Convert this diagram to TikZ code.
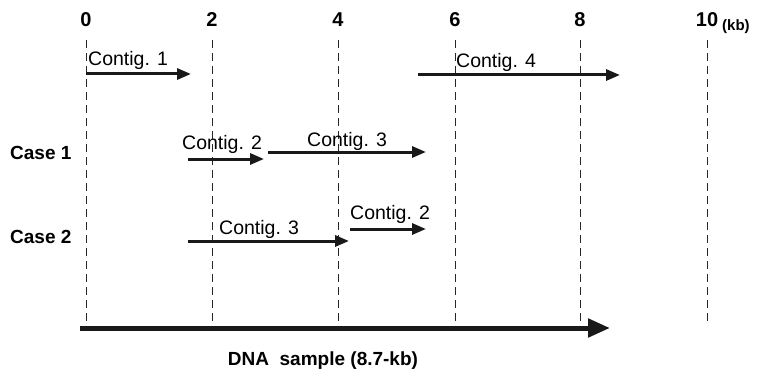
\documentclass[tikz,border=0pt]{standalone}
\usepackage{fontspec}
\setmainfont{Liberation Sans}
\usetikzlibrary{arrows.meta}
\begin{document}
\begin{tikzpicture}[x=1pt,y=-1pt,
  grid/.style={dash pattern=on 8pt off 5pt, line width=1pt, black!85},
  contig/.style={line width=3pt, -{Triangle[length=14pt,width=11pt]}, black!90},
  dna/.style={line width=5pt, -{Triangle[length=22pt,width=18pt]}, black!90},
  lab/.style={font=\fontsize{19.5}{19.5}\selectfont, inner sep=0pt, anchor=base west},
  num/.style={font=\bfseries\fontsize{20}{20}\selectfont, inner sep=0pt, anchor=base},
  casel/.style={font=\bfseries\fontsize{19}{19}\selectfont, inner sep=0pt, anchor=base west}]
\useasboundingbox (0,0) rectangle (758,369);
% scale ticks
\foreach \n/\x in {0/86,2/212,4/338,6/455,8/580,10/707}{
  \node[num] (t\n) at (\x,27) {\n};
  \coordinate (top\n) at (\x,40);
  \coordinate (bot\n) at (\x,322);
  \draw[grid] (top\n) -- (bot\n);
}
\node[font=\bfseries\fontsize{15}{15}\selectfont, inner sep=0pt, anchor=base west] (kb) at (722,31) {(kb)};
% Contig 1 and 4
\coordinate (c1s) at (86,74); \coordinate (c1e) at (191,74);
\draw[contig] (c1s) -- (c1e);
\node[lab] (l1) at (88,66) {Contig. 1};
\coordinate (c4s) at (418,75); \coordinate (c4e) at (620,75);
\draw[contig] (c4s) -- (c4e);
\node[lab] (l4) at (456,67) {Contig. 4};
% Case 1
\node[casel] (case1) at (10,159) {Case 1};
\coordinate (a2s) at (188,159); \coordinate (a2e) at (264,159);
\draw[contig] (a2s) -- (a2e);
\node[lab] (l2a) at (182,149) {Contig. 2};
\coordinate (a3s) at (268,152); \coordinate (a3e) at (426,152);
\draw[contig] (a3s) -- (a3e);
\node[lab] (l3a) at (307,146) {Contig. 3};
% Case 2
\node[casel] (case2) at (10,243) {Case 2};
\coordinate (b3s) at (188,241); \coordinate (b3e) at (349,241);
\draw[contig] (b3s) -- (b3e);
\node[lab] (l3b) at (219,234) {Contig. 3};
\coordinate (b2s) at (350,229); \coordinate (b2e) at (426,229);
\draw[contig] (b2s) -- (b2e);
\node[lab] (l2b) at (350,219) {Contig. 2};
% DNA sample
\coordinate (ds) at (80,328); \coordinate (de) at (610,328);
\draw[dna] (ds) -- (de);
\node[font=\bfseries\fontsize{19}{19}\selectfont, inner sep=0pt, anchor=base] (dnal) at (323,365) {DNA\ \ sample (8.7-kb)};
\end{tikzpicture}
\end{document}
